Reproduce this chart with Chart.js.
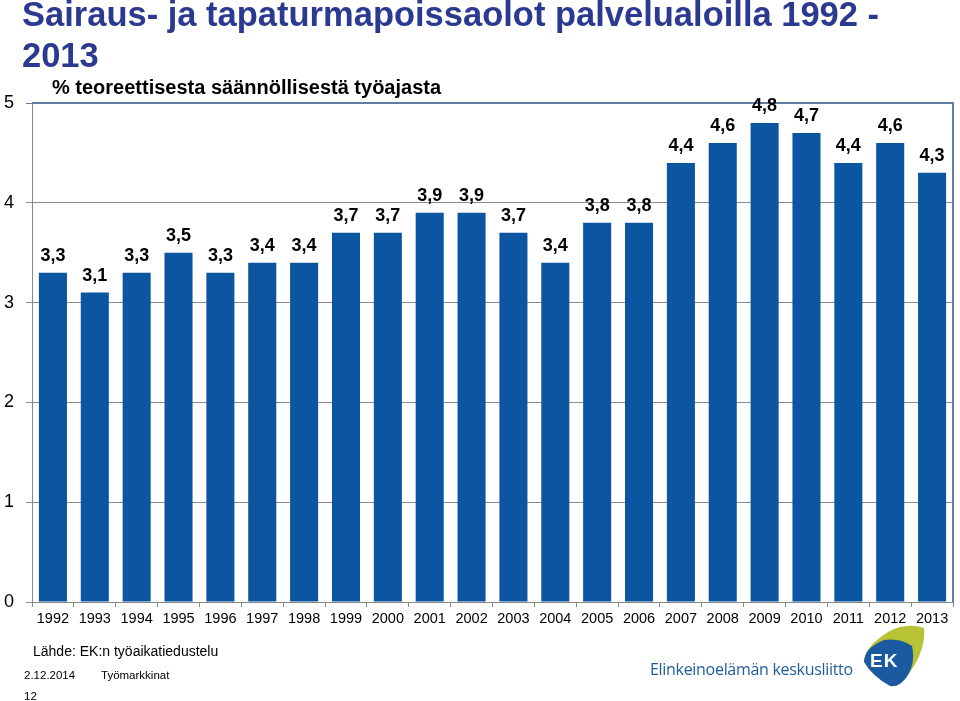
<!DOCTYPE html>
<html>
<head>
<meta charset="utf-8">
<script src="https://cdn.jsdelivr.net/npm/chart.js@4/dist/chart.umd.min.js"></script>
<style>
  html,body{margin:0;padding:0;background:#fff;}
  #wrap{position:relative;width:960px;height:701px;overflow:hidden;font-family:"Liberation Sans",Arial,sans-serif;}
  #c{position:absolute;left:0;top:0;}
  .t{position:absolute;white-space:nowrap;}
</style>
</head>
<body>
<div id="wrap">
  <canvas id="c" width="960" height="701"></canvas>
  <div class="t" style="left:22px;top:-6px;font-size:34.5px;font-weight:bold;color:#2B3990;line-height:41px;">Sairaus- ja tapaturmapoissaolot palvelualoilla 1992 -<br>2013</div>
  <div class="t" style="left:52px;top:76px;font-size:20px;font-weight:bold;color:#000;">% teoreettisesta säännöllisestä työajasta</div>
  <div class="t" style="left:33px;top:643px;font-size:14px;color:#000;">Lähde: EK:n työaikatiedustelu</div>
  <div class="t" style="left:24px;top:669px;font-size:11.5px;color:#000;">2.12.2014</div>
  <div class="t" style="left:101px;top:669px;font-size:11.5px;color:#000;">Työmarkkinat</div>
  <div class="t" style="left:24px;top:690px;font-size:11.5px;color:#000;">12</div>
  <div class="t" style="left:650px;top:658px;font-size:16px;color:#1D5C9B;font-family:'Open Sans','DejaVu Sans',sans-serif;letter-spacing:-0.3px;">Elinkeinoelämän keskusliitto</div>
  <svg class="t" style="left:858px;top:624px;" width="70" height="66" viewBox="0 0 70 66">
    <path d="M30 8 Q48 -2 66 4 Q68 22 56 42 Q46 58 38 62 Q22 54 8 40 Q2 26 30 8 Z" fill="#B7C334"/>
    <path d="M26 16 Q42 14 54 22 Q58 40 48 54 Q40 64 32 62 Q14 52 6 38 Q6 24 26 16 Z" fill="#1B5AA0"/>
    <text x="12" y="43" font-family="'Liberation Sans',Arial,sans-serif" font-weight="bold" font-size="19" fill="#fff" letter-spacing="1">EK</text>
  </svg>
</div>
<script>
const years = ["1992","1993","1994","1995","1996","1997","1998","1999","2000","2001","2002","2003","2004","2005","2006","2007","2008","2009","2010","2011","2012","2013"];
const values = [3.3,3.1,3.3,3.5,3.3,3.4,3.4,3.7,3.7,3.9,3.9,3.7,3.4,3.8,3.8,4.4,4.6,4.8,4.7,4.4,4.6,4.3];
const yTicks = [0,1,2,3,4,5];

const labelPlugin = {
  id: 'labels',
  afterDatasetsDraw(chart) {
    const ctx = chart.ctx;
    const meta = chart.getDatasetMeta(0);
    ctx.save();
    ctx.font = 'bold 18px "Liberation Sans", Arial, sans-serif';
    ctx.fillStyle = '#000';
    ctx.textAlign = 'center';
    ctx.textBaseline = 'middle';
    meta.data.forEach((bar, i) => {
      ctx.fillText(values[i].toFixed(1).replace('.', ','), bar.x, bar.y - 17);
    });
    ctx.restore();
  }
};
const framePlugin = {
  id: 'frame',
  beforeDatasetsDraw(chart) {
    const a = chart.chartArea, ctx = chart.ctx;
    ctx.save();
    ctx.strokeStyle = '#5E7FA3';
    ctx.lineWidth = 2;
    ctx.beginPath();
    ctx.moveTo(a.left, a.top);
    ctx.lineTo(a.right, a.top);
    ctx.lineTo(a.right, a.bottom);
    ctx.stroke();
    ctx.restore();
  }
};

new Chart(document.getElementById('c'), {
  type: 'bar',
  data: {
    labels: years,
    datasets: [{
      data: values,
      backgroundColor: '#0B55A1',
      categoryPercentage: 1.0,
      barPercentage: 0.67
    }]
  },
  options: {
    responsive: false,
    animation: false,
    devicePixelRatio: 1,
    layout: { padding: { top: 103, right: 7, bottom: 60, left: 0 } },
    plugins: { legend: { display: false }, tooltip: { enabled: false } },
    scales: {
      x: {
        grid: { offset: true, drawOnChartArea: false, tickLength: 5, color: '#888' },
        border: { color: '#888' },
        ticks: { color: '#000', font: { size: 14.5, family: '"Liberation Sans", Arial, sans-serif' }, padding: 3, maxRotation: 0, autoSkip: false },
        afterFit(s) { s.height = 39; }
      },
      y: {
        min: 0, max: 5,
        afterBuildTicks(s) { s.ticks = yTicks.map(v => ({ value: v })); },
        grid: { color: (c) => c.tick && c.tick.value === 5 ? '#5E7FA3' : '#8C8C8C', tickLength: 6 },
        border: { color: '#888' },
        ticks: { color: '#000', font: { size: 18, family: '"Liberation Sans", Arial, sans-serif' }, padding: 12 },
        afterFit(s) { s.width = 32; }
      }
    }
  },
  plugins: [labelPlugin, framePlugin]
});
</script>
</body>
</html>
